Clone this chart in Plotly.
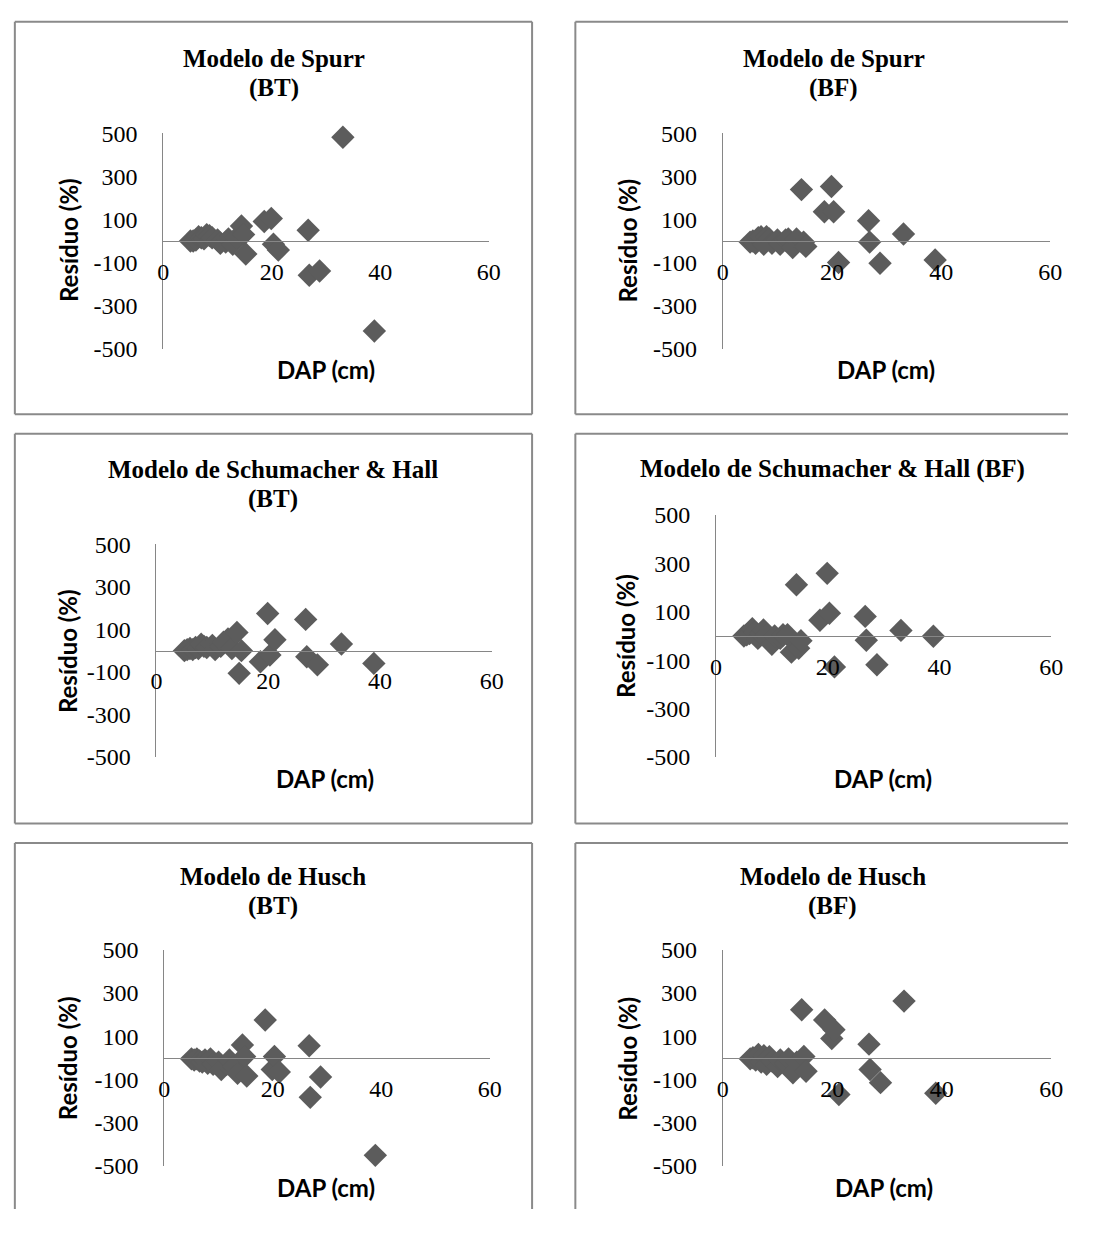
import plotly.graph_objects as go

# page is 1096x1238; figure placed at the page origin, kept slightly smaller
# than the window so no scrollbars appear (page pixel coordinates are kept 1:1)
W, H = 1080, 1222

# ---------------- data ----------------
dap = [5.0, 5.5, 6.0, 6.5, 7.0, 7.5, 8.0, 8.5, 9.0, 10.0, 10.5, 11.5, 12.0, 12.8,
       13.5, 14.4, 14.8, 15.2, 18.6, 19.9, 20.3, 21.2, 26.7, 26.9, 28.8, 33.1, 38.9]

spurr_bt = [0, 0, 5, 20, 15, 10, 30, 25, 15, 5, -10, -5, 10, -15,
            15, 70, 30, -60, 91, 105, -15, -42, 50, -159, -139, 482, -418]
spurr_bf = [-5, 0, -10, 15, 20, -15, 20, 10, -10, 5, -15, 5, 10, -30,
            10, 239, -5, -25, 136, 253, 136, -100, 94, -5, -103, 33, -88]
sh_bt = [0, 5, 10, 5, 15, 10, 30, 20, 15, 25, 5, 20, 40, 55,
         10, 86, -107, 0, -52, 175, -21, 51, 147, -29, -67, 31, -60]
sh_bf = [0, 5, 10, 30, 15, -10, 10, 25, 5, -34, 0, -10, 5, 5,
         -67, 212, -51, -20, 65, 259, 94, -128, 81, -18, -119, 23, -1]
husch_bt = [-5, -10, -5, -15, -20, -10, -25, -5, -30, -20, -54, -30, -10, -40,
            -72, 59, 6, -84, 175, -54, 6, -66, 56, -183, -89, None, -451]
husch_bf = [-5, 0, -10, 15, -20, 10, -30, 5, -15, -40, -10, -25, -5, -69,
            -20, 222, 6, -62, 175, 89, 130, -170, 63, -54, -115, 262, -164]

x_ticks = [0, 20, 40, 60]
y_ticks = [500, 300, 100, -100, -300, -500]
y_ticktext = ["500", "300", "100", "-100", "-300", "-500"]

panels = [
    {"title": ["Modelo de Spurr", "(BT)"], "res": spurr_bt},
    {"title": ["Modelo de Spurr", "(BF)"], "res": spurr_bf},
    {"title": ["Modelo de Schumacher & Hall", "(BT)"], "res": sh_bt},
    {"title": ["Modelo de Schumacher & Hall (BF)"], "res": sh_bf},
    {"title": ["Modelo de Husch", "(BT)"], "res": husch_bt},
    {"title": ["Modelo de Husch", "(BF)"], "res": husch_bf},
]

# ---------------- layout geometry (page pixels) ----------------
areas = [
    (160, 491, 123, 343),
    (729, 1062, 123, 343),
    (153, 494, 543, 760),
    (722, 1063, 513, 760),
    (161, 492, 957, 1178),
    (729, 1063, 957, 1178),
]
# box: left, right, top, bottom, which sides to draw
boxes = [
    (9, 535, 9, 410, "LRTB"), (579, None, 9, 410, "LTB"),
    (9, 535, 430, 828, "LRTB"), (579, None, 430, 828, "LTB"),
    (9, 535, 848, None, "LRT"), (579, None, 848, None, "LT"),
]
title_pos = [
    (273, [46, 77]), (842, [46, 77]),
    (272, [466, 497]), (840, [466]),
    (272, [882, 912]), (841, [882, 912]),
]
ytitle_pos = [(63, 232), (632, 232), (62, 652), (630, 637), (62, 1068), (632, 1068)]
xtitle_pos = [(325, 364), (895, 364), (324, 782), (892, 782), (325, 1200), (893, 1200)]


def px(x):
    return x / W


def py(y):
    return 1 - y / H


fig = go.Figure()
layout = {}
annotations = []
shapes = []

serif = "Liberation Serif, Times New Roman, serif"
sans = "Lato, Open Sans, sans-serif"
axis_col = "#868686"
box_col = "#8a8a8a"

for i, p in enumerate(panels):
    n = i + 1
    xa = "xaxis" if n == 1 else f"xaxis{n}"
    ya = "yaxis" if n == 1 else f"yaxis{n}"
    xr = "x" if n == 1 else f"x{n}"
    yr = "y" if n == 1 else f"y{n}"
    x0, x1, yt, yb = areas[i]
    ymid = (yt + yb) / 2
    layout[xa] = dict(
        domain=[px(x0), px(x1)], range=[0, 60], anchor="free", position=py(ymid),
        showline=True, linecolor=axis_col, linewidth=1, showgrid=False,
        zeroline=False, ticks="", tickvals=x_ticks, ticktext=[str(v) for v in x_ticks],
        tickfont=dict(family=serif, size=24, color="black"), ticklabelstandoff=9,
        fixedrange=True,
    )
    layout[ya] = dict(
        domain=[py(yb), py(yt)], range=[-500, 500], anchor=xr,
        showline=True, linecolor=axis_col, linewidth=1, showgrid=False,
        zeroline=False, ticks="", tickvals=y_ticks, ticktext=y_ticktext,
        tickfont=dict(family=serif, size=24, color="black"), ticklabelstandoff=20,
        fixedrange=True,
    )
    fig.add_trace(go.Scatter(
        x=dap, y=p["res"], mode="markers", xaxis=xr, yaxis=yr,
        marker=dict(symbol="diamond", size=18, color="#5c5c5c", line=dict(width=0)),
        cliponaxis=False, showlegend=False, hoverinfo="x+y",
    ))
    # panel frame drawn as separate lines kept inside the figure
    bl, br, bt, bb, sides = boxes[i]
    xl, xrgt = px(bl), (px(br) if br is not None else 1.0)
    ytop, ybot = py(bt), (py(bb) if bb is not None else 0.0)
    seg = dict(type="line", xref="paper", yref="paper",
               line=dict(color=box_col, width=2), layer="below")
    if "L" in sides:
        shapes.append(dict(seg, x0=xl, x1=xl, y0=ybot, y1=ytop))
    if "R" in sides:
        shapes.append(dict(seg, x0=xrgt, x1=xrgt, y0=ybot, y1=ytop))
    if "T" in sides:
        shapes.append(dict(seg, x0=xl, x1=xrgt, y0=ytop, y1=ytop))
    if "B" in sides:
        shapes.append(dict(seg, x0=xl, x1=xrgt, y0=ybot, y1=ybot))
    tx, tys = title_pos[i]
    for line, ty in zip(p["title"], tys):
        annotations.append(dict(text=f"<b>{line}</b>", x=px(tx), y=py(ty),
                                xref="paper", yref="paper", showarrow=False,
                                xanchor="center", yanchor="middle",
                                font=dict(family=serif, size=25, color="black")))
    yx, yy = ytitle_pos[i]
    annotations.append(dict(text="<b>Resíduo (%)</b>", x=px(yx), y=py(yy),
                            xref="paper", yref="paper", showarrow=False, textangle=-90,
                            xanchor="center", yanchor="middle",
                            font=dict(family=sans, size=24, color="black")))
    xx, xy = xtitle_pos[i]
    annotations.append(dict(text="<b>DAP (cm)</b>", x=px(xx), y=py(xy),
                            xref="paper", yref="paper", showarrow=False,
                            xanchor="center", yanchor="middle",
                            font=dict(family=sans, size=24, color="black")))

fig.update_layout(
    width=W, height=H, autosize=False,
    margin=dict(l=0, r=0, t=0, b=0),
    paper_bgcolor="white", plot_bgcolor="white",
    annotations=annotations, shapes=shapes, showlegend=False,
    **layout,
)

fig.write_html("out.html", config={"displayModeBar": False})
